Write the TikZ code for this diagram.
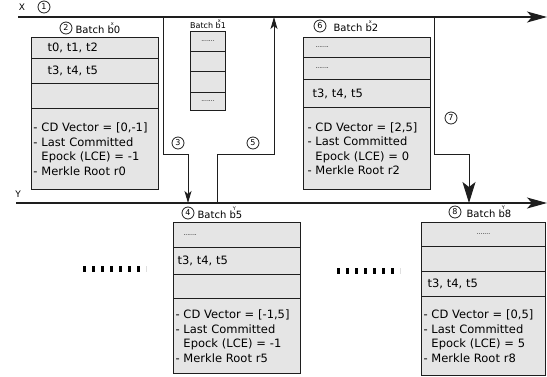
\documentclass[tikz,border=0pt]{standalone}
\usepackage{fontspec}
\setmainfont{DejaVu Sans}
\usepackage{tikz}
\usetikzlibrary{arrows.meta, positioning}
\usepackage{xcolor}
\definecolor{cellgray}{RGB}{229,229,229}
\definecolor{lineblack}{RGB}{30,30,30}
\tikzset{
    % Timelines
    tline/.style={line width=1.1pt, draw=lineblack, -{Stealth[length=20pt, width=11pt, inset=5pt]}},
    tlbl/.style={font=\fontsize{9}{9}\selectfont, inner sep=0pt},
    % Hand-off paths
    sarrow/.style={line width=0.9pt, draw=lineblack, -{Stealth[length=12pt, width=7pt, inset=3pt]}},
    barrow/.style={line width=0.9pt, draw=lineblack, -{Stealth[length=21pt, width=13pt, inset=5pt]}},
    stepnum/.style={circle, draw=lineblack, line width=0.8pt, inner sep=0pt, minimum size=12pt,
                font=\fontsize{8}{8}\selectfont},
    % Batch boxes
    cell/.style={rectangle, draw=lineblack, line width=1pt, fill=cellgray, anchor=north west,
                text width=#1, align=left, inner xsep=2pt, inner ysep=0pt,
                font=\fontsize{11.5}{14.5}\selectfont},
    bname/.style={font=\fontsize{10}{12}\selectfont, inner sep=0pt},
    tinydots/.style={font=\fontsize{6}{6}\selectfont},
    gapdots/.style={line width=6pt, dash pattern=on 3pt off 6pt},
}
\newcommand{\bsup}[2]{b\llap{\raisebox{1.5ex}{\fontsize{5}{5}\selectfont #1}}#2}

\begin{document}
\begin{tikzpicture}[x=1pt, y=-1pt]
\useasboundingbox (0,0) rectangle (547,376);

% Timelines X and Y
\node[tlbl] (xl) at (22,7) {X};
\node[stepnum] (n1) at (44,7) {1};
\coordinate (xs) at (18,17);
\coordinate (xe) at (547,17);
\draw[tline] (xs) -- (xe);

\node[tlbl] (yl) at (18,194) {Y};
\coordinate (ys) at (16,203);
\coordinate (ye) at (547,203);
\draw[tline] (ys) -- (ye);

% Batch b0
\node[stepnum] (n2) at (66,28) {2};
\node[bname, right=3pt of n2] (b0l) {Batch \bsup{x}{0}};
\node[cell=123pt, minimum height=21] (b0a) at (31,37)  {\hspace{14pt}t0, t1, t2};
\node[cell=123pt, minimum height=25] (b0b) at (31,58)  {\hspace{14pt}t3, t4, t5};
\node[cell=123pt, minimum height=25] (b0c) at (31,83)  {};
\node[cell=123pt, minimum height=81] (b0d) at (31,108) {- CD Vector = [0,-1]\\- Last Committed\\\hphantom{-}\ Epock (LCE) = -1\\- Merkle Root r0};

% Batch b1
\node[bname, font=\fontsize{8}{9}\selectfont] (b1l) at (208,24) {Batch \bsup{x}{1}};
\node[cell=31pt, minimum height=20, align=center, tinydots] (b1a) at (190,31) {.......};
\node[cell=31pt, minimum height=20] (b1b) at (190,51) {};
\node[cell=31pt, minimum height=21] (b1c) at (190,71) {};
\node[cell=31pt, minimum height=18, align=center, tinydots] (b1d) at (190,92) {.......};

% Batch b2
\node[stepnum] (n6) at (320,26) {6};
\node[bname, right=7pt of n6] (b2l) {Batch \bsup{x}{2}};
\node[cell=123pt, minimum height=20, tinydots] (b2a) at (303,37)  {\hspace{10pt}.......};
\node[cell=123pt, minimum height=22, tinydots] (b2b) at (303,57)  {\hspace{10pt}.......};
\node[cell=123pt, minimum height=28] (b2c) at (303,79)  {\hspace{7pt}t3, t4, t5};
\node[cell=123pt, minimum height=82] (b2d) at (303,107) {\hspace{2pt}- CD Vector = [2,5]\\\hspace{2pt}- Last Committed\\\hspace{2pt}\hphantom{-}\ Epock (LCE) = 0\\\hspace{2pt}- Merkle Root r2};

% Batch b5
\node[stepnum] (n4) at (188,213) {4};
\node[bname, right=3pt of n4] (b5l) {Batch \bsup{Y}{5}};
\node[cell=123pt, minimum height=25, tinydots] (b5a) at (173,222) {\hspace{8pt}.......};
\node[cell=123pt, minimum height=27] (b5b) at (173,247) {\hspace{2pt}t3, t4, t5};
\node[cell=123pt, minimum height=24] (b5c) at (173,274) {};
\node[cell=123pt, minimum height=75] (b5d) at (173,298) {- CD Vector = [-1,5]\\- Last Committed\\\hphantom{-}\ Epock (LCE) = -1\\- Merkle Root r5};

% Batch b8
\node[stepnum] (n8) at (455,212) {8};
\node[bname, right=5pt of n8] (b8l) {Batch \bsup{Y}{8}};
\node[cell=120pt, minimum height=24, align=center, tinydots] (b8a) at (421,222) {.......};
\node[cell=120pt, minimum height=25] (b8b) at (421,246) {};
\node[cell=120pt, minimum height=25] (b8c) at (421,271) {\hspace{4pt}t3, t4, t5};
\node[cell=120pt, minimum height=79] (b8d) at (421,296) {- CD Vector = [0,5]\\- Last Committed\\\hphantom{-}\ Epock (LCE) = 5\\- Merkle Root r8};

% Hand-off paths between X and Y
\coordinate (x3) at (163,17);
\coordinate (y3) at (188,203);
\draw[sarrow] (x3) -- ++(0,137) -| (y3);
\node[stepnum] (n3) at (178,143) {3};

\coordinate (y5) at (217,203);
\coordinate (x5) at (274,17);
\draw[sarrow] (y5) -- ++(0,-49) -| (x5);
\node[stepnum] (n5) at (253,143) {5};

\coordinate (x7) at (434,17);
\coordinate (y7) at (469,203);
\draw[barrow] (x7) -- ++(0,137) -| (y7);
\node[stepnum] (n7) at (451,118) {7};

% Skipped batches
\draw[gapdots] (83,269) -- (146,269);
\draw[gapdots] (337,271) -- (400,271);
\end{tikzpicture}
\end{document}
